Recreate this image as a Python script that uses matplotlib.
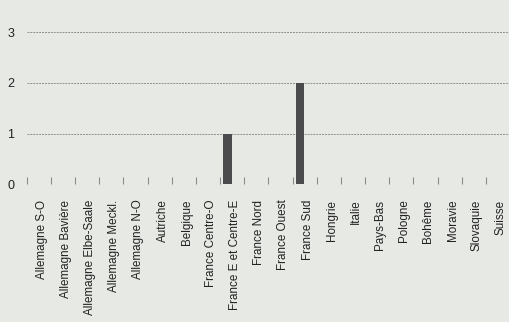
import matplotlib
matplotlib.use("Agg")
import matplotlib.pyplot as plt
import matplotlib.transforms as mtransforms
import numpy as np

categories = ["Allemagne S-O", "Allemagne Bavière", "Allemagne Elbe-Saale",
              "Allemagne Meckl.", "Allemagne N-O", "Autriche", "Belgique",
              "France Centre-O", "France E et Centre-E", "France Nord",
              "France Ouest", "France Sud", "Hongrie", "Italie", "Pays-Bas",
              "Pologne", "Bohême", "Moravie", "Slovaquie", "Suisse"]
values = [0, 0, 0, 0, 0, 0, 0, 0, 1, 0, 0, 2, 0, 0, 0, 0, 0, 0, 0, 0]
yticks = [0, 1, 2, 3]

bg = "#e7e9e5"
fig = plt.figure(figsize=(5.10, 3.22), dpi=100, facecolor=bg)
ax = fig.add_axes([0.0523, 0.4276, 0.9477, 0.5508], facecolor=bg)

n = len(categories)
x = np.arange(n)
ax.bar(x - 0.19, values, width=0.37, color="#4b4b4e", zorder=3)

ax.set_xlim(-0.5, n - 0.5)
ax.set_ylim(0, 3.5)

for s in ax.spines.values():
    s.set_visible(False)

for y in yticks:
    ax.axhline(y, color="#909090", lw=0.7, ls=(0, (2.0, 1.0)), zorder=1)

ax.set_yticks(yticks)
ax.tick_params(axis="y", length=0, pad=9, labelsize=9, labelcolor="#222222")

# boundary ticks pointing upward
ax.set_xticks(np.arange(n + 1) - 0.5, minor=True)
ax.tick_params(axis="x", which="minor", direction="in", length=5,
               color="#8c8c8c", width=0.8)
ax.set_xticks(x)
ax.set_xticklabels(categories, rotation=90, va="top", ha="center",
                   fontsize=8.4, color="#222222", family="Liberation Sans")
ax.tick_params(axis="x", which="major", length=0, pad=11)
offset = mtransforms.ScaledTranslation(3 / 100, 0, fig.dpi_scale_trans)
for lab in ax.get_xticklabels():
    lab.set_transform(lab.get_transform() + offset)
for lab in ax.get_yticklabels():
    lab.set_family("Liberation Sans")

fig.savefig("out.png", dpi=100, facecolor=bg)
